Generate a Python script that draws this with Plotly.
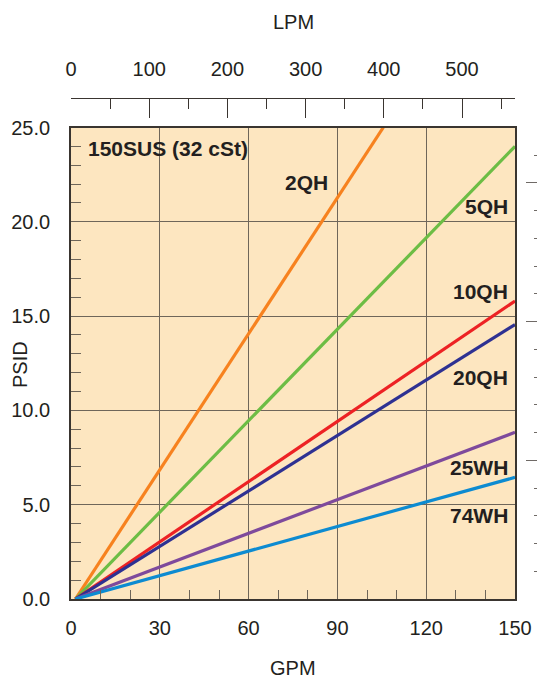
import plotly.graph_objects as go

# ---------------- data ----------------
series_names = ["2QH", "5QH", "10QH", "20QH", "25WH", "74WH"]
start_gpm = [1.5, 1.5, 1.5, 1.5, 1.5, 1.5]
start_psid = [0.0, 0.0, 0.0, 0.0, 0.0, 0.0]
end_gpm = [105.5, 150.0, 150.0, 150.0, 150.0, 150.0]
end_psid = [25.0, 24.0, 15.8, 14.55, 8.84, 6.45]
series_colors = ["#f7821f", "#6dbd45", "#ed2224", "#2e3192", "#7e4a9c", "#0d8bd1"]

gpm_ticks = [0, 30, 60, 90, 120, 150]
lpm_ticks = [0, 100, 200, 300, 400, 500]
psid_ticks = [0, 5, 10, 15, 20, 25]
psid_tick_labels = ["0.0", "5.0", "10.0", "15.0", "20.0", "25.0"]
GPM_RANGE = [0, 150]
PSID_RANGE = [0, 25]
LPM_PER_GPM = 3.785
fluid_label = "150SUS (32 cSt)"

# ---------------- style ----------------
FONT = "Liberation Sans, Arial, Helvetica, sans-serif"
TXT = "#231f20"
GRID = "#6f665a"
BG = "#fde6c0"

fig = go.Figure()

for name, x0, y0, x1, y1, c in zip(series_names, start_gpm, start_psid, end_gpm, end_psid, series_colors):
    fig.add_trace(go.Scatter(x=[x0, x1], y=[y0, y1], mode="lines", name=name,
                             line=dict(color=c, width=3.2), showlegend=False))

# invisible traces to attach secondary axes (LPM on top, right-hand tick scale)
fig.add_trace(go.Scatter(x=[g * LPM_PER_GPM for g in GPM_RANGE], y=PSID_RANGE, mode="none",
                         xaxis="x2", yaxis="y", showlegend=False, hoverinfo="skip"))
fig.add_trace(go.Scatter(x=GPM_RANGE, y=PSID_RANGE, mode="none",
                         xaxis="x", yaxis="y2", showlegend=False, hoverinfo="skip"))

# page has an 8px body margin: figure is drawn 8px right/down of the window origin
OFF = 8
W, H = 545 - OFF, 681 - OFF
ml, mr, mt, mb = 71 - OFF, 3, 98 - OFF, 82
plot_right = 515 - OFF
plot_top = 127.5 - OFF
pw = W - ml - mr
ph = H - mt - mb
xdom = (plot_right - ml) / pw
ydom = (H - mb - plot_top) / ph


def px(xp):  # window pixel x -> paper x
    return (xp - OFF - ml) / pw


def py(yp):  # window pixel y -> paper y
    return (H - mb - (yp - OFF)) / ph


axis_font = dict(family=FONT, size=20, color=TXT)

fig.update_layout(
    width=W, height=H, autosize=False,
    margin=dict(l=ml, r=mr, t=mt, b=mb, autoexpand=False),
    paper_bgcolor="white",
    plot_bgcolor=BG,
    font=dict(family=FONT, color=TXT),
    xaxis=dict(
        domain=[0, xdom], range=GPM_RANGE, tickvals=gpm_ticks,
        ticks="inside", ticklen=19, tickwidth=1.3, tickcolor=GRID,
        minor=dict(dtick=10, tick0=0, ticks="inside", ticklen=9, tickwidth=1.3, tickcolor=GRID, showgrid=False),
        showgrid=True, gridcolor=GRID, gridwidth=1.3,
        showline=True, mirror=True, linecolor="#3a3530", linewidth=1.6,
        tickfont=axis_font, ticklabelstandoff=10, zeroline=False,
    ),
    yaxis=dict(
        domain=[0, ydom], range=PSID_RANGE, tickvals=psid_ticks, ticktext=psid_tick_labels,
        ticks="inside", ticklen=19, tickwidth=1.3, tickcolor=GRID,
        minor=dict(dtick=1, tick0=0, ticks="inside", ticklen=10, tickwidth=1.3, tickcolor=GRID, showgrid=False),
        showgrid=True, gridcolor=GRID, gridwidth=1.3,
        showline=True, mirror=True, linecolor="#3a3530", linewidth=1.6,
        tickfont=axis_font, ticklabelstandoff=15, zeroline=False,
    ),
    xaxis2=dict(
        overlaying="x", side="top", anchor="free", position=1.0,
        domain=[0, xdom], range=[g * LPM_PER_GPM for g in GPM_RANGE], tickvals=lpm_ticks,
        ticks="inside", ticklen=19, tickwidth=1.3, tickcolor="#3a3530",
        minor=dict(dtick=50, tick0=0, ticks="inside", ticklen=9.5, tickwidth=1.3, tickcolor="#3a3530", showgrid=False),
        showgrid=False, showline=True, linecolor="#3a3530", linewidth=1.3,
        tickfont=axis_font, ticklabelstandoff=14, zeroline=False,
    ),
    yaxis2=dict(
        overlaying="y", side="right", anchor="free", position=1.0,
        domain=[0, ydom], range=PSID_RANGE,
        tickvals=[k * PSID_RANGE[1] / 17 for k in (0, 5, 10, 15)],
        ticks="inside", ticklen=16, tickwidth=1.4, tickcolor="#6f6a66",
        minor=dict(tickvals=[k * PSID_RANGE[1] / 17 for k in range(18)], ticks="inside", ticklen=8,
                   tickwidth=1.4, tickcolor="#6f6a66", showgrid=False),
        showticklabels=False, showgrid=False, showline=False, zeroline=False,
    ),
)

# axis titles
fig.add_annotation(text="PSID", xref="paper", yref="paper", x=px(20), y=py(365),
                   textangle=-90, showarrow=False, font=axis_font, xanchor="center", yanchor="middle")
fig.add_annotation(text="GPM", xref="paper", yref="paper", x=px(293), y=py(668),
                   showarrow=False, font=axis_font, xanchor="center", yanchor="middle")
fig.add_annotation(text="LPM", xref="paper", yref="paper", x=px(293), y=py(22),
                   showarrow=False, font=axis_font, xanchor="center", yanchor="middle")

# in-plot labels
lab_font = dict(family=FONT, size=21, color=TXT, weight="bold")
fig.add_annotation(text=fluid_label, x=5.0, y=23.9, xref="x", yref="y", showarrow=False,
                   xanchor="left", yanchor="middle", font=lab_font)
label_pos = {
    "2QH": (87.5, 22.1),
    "5QH": (148.2, 20.8),
    "10QH": (148.2, 16.3),
    "20QH": (148.2, 11.73),
    "25WH": (148.2, 6.98),
    "74WH": (148.2, 4.44),
}
for name in series_names:
    lx, ly = label_pos[name]
    fig.add_annotation(text=name, x=lx, y=ly, xref="x", yref="y", showarrow=False,
                       xanchor="right", yanchor="middle", font=lab_font)

fig.write_html("out.html")
